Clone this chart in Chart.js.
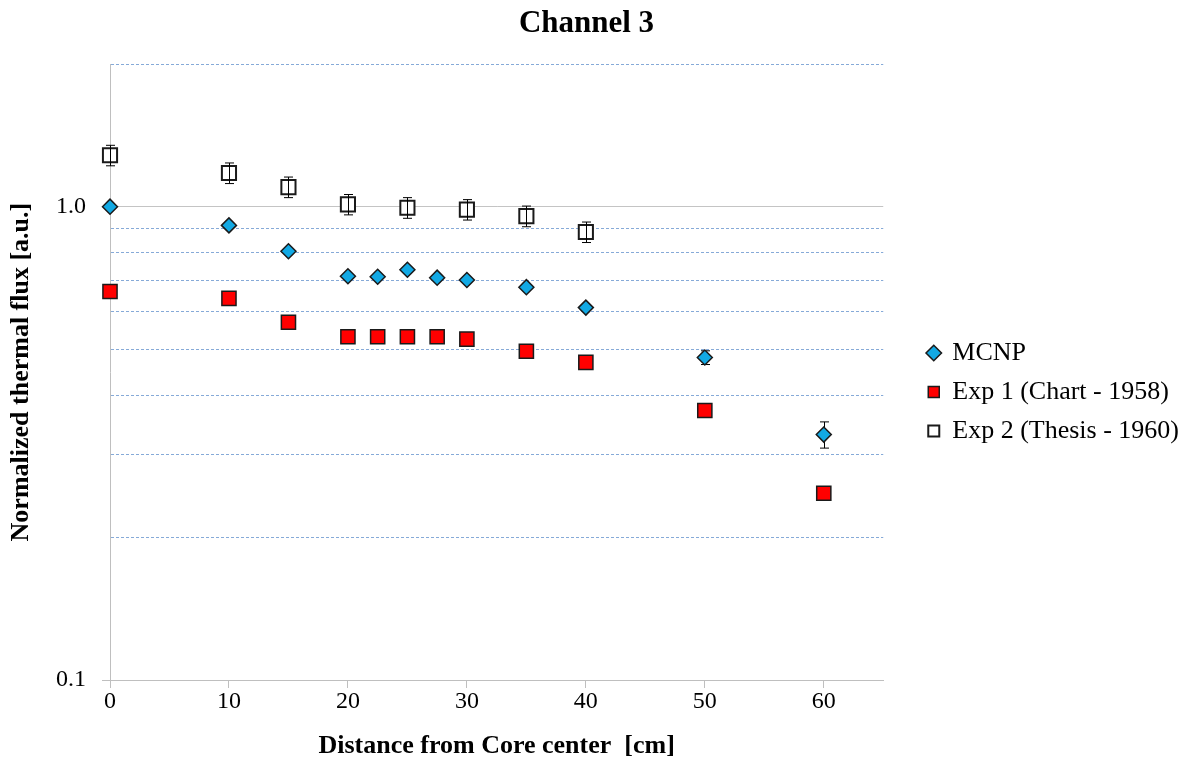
<!DOCTYPE html>
<html>
<head>
<meta charset="utf-8">
<title>Channel 3</title>
<script src="https://cdn.jsdelivr.net/npm/chart.js@4.4.1/dist/chart.umd.min.js"></script>
<style>
  html, body { margin: 0; padding: 0; background: #fff; }
  #wrap { width: 1202px; height: 764px; position: relative; }
</style>
</head>
<body>
<div id="wrap"><canvas id="chart"></canvas></div>
<script>
// distances from core center [cm]
const distances = [0, 10, 15, 20, 22.5, 25, 27.5, 30, 35, 40, 50, 60];

// normalized thermal flux
const mcnp    = [1.0, 0.913, 0.805, 0.713, 0.711, 0.736, 0.708, 0.700, 0.676, 0.612, 0.480, 0.330];
const mcnpErr = [0, 0, 0, 0, 0, 0, 0, 0, 0, 0, 0.016, 0.021];
const exp1    = [0.662, 0.640, 0.570, 0.531, 0.531, 0.531, 0.531, 0.525, 0.495, 0.469, 0.371, 0.248];
const exp2    = [1.284, 1.178, 1.10, 1.011, null, 0.995, null, 0.986, 0.955, 0.884, null, null];
const exp2Err = [0.064, 0.059, 0.055, 0.05, null, 0.05, null, 0.049, 0.048, 0.044, null, null];

const seriesNames = ['MCNP', 'Exp 1 (Chart - 1958)', 'Exp 2 (Thesis - 1960)'];
const xTicks = [0, 10, 20, 30, 40, 50, 60];
const yTicks = [0.1, 0.2, 0.3, 0.4, 0.5, 0.6, 0.7, 0.8, 0.9, 1, 2];
const yLabelled = [0.1, 1];

function points(vals) {
  const out = [];
  vals.forEach((v, i) => { if (v != null) out.push({ x: distances[i], y: v }); });
  return out;
}
function errs(vals, e) {
  const out = [];
  vals.forEach((v, i) => { if (v != null) out.push(e[i]); });
  return out;
}
function isLabelled(v) {
  return yLabelled.some(t => Math.abs(t - v) < 1e-9);
}

const serif = '"Liberation Serif", "Times New Roman", serif';

// vertical error bars, drawn under or over the markers
function drawErrors(chart, onTop) {
  const { ctx, scales: { x, y } } = chart;
  chart.data.datasets.forEach((ds, i) => {
    if (!ds.errors || !!ds.errorsOnTop !== onTop) return;
    if (!chart.isDatasetVisible(i)) return;
    ctx.save();
    ctx.strokeStyle = '#000';
    ctx.lineWidth = 1;
    ds.data.forEach((p, j) => {
      const e = ds.errors[j];
      if (!e) return;
      const px = Math.round(x.getPixelForValue(p.x)) + 0.5;
      const top = y.getPixelForValue(p.y + e);
      const bot = y.getPixelForValue(p.y - e);
      ctx.beginPath();
      ctx.moveTo(px, top); ctx.lineTo(px, bot);
      ctx.moveTo(px - 4.5, top); ctx.lineTo(px + 4.5, top);
      ctx.moveTo(px - 4.5, bot); ctx.lineTo(px + 4.5, bot);
      ctx.stroke();
    });
    ctx.restore();
  });
}

const errorBars = {
  id: 'errorBars',
  beforeDatasetsDraw(chart) { drawErrors(chart, false); },
  afterDatasetsDraw(chart) { drawErrors(chart, true); }
};

// nudge legend and title to where they sit in the original
const placeBoxes = {
  id: 'placeBoxes',
  afterLayout(chart) {
    const lg = chart.legend;
    if (lg) { lg.left += 32; lg.right += 32; lg.top += 10; lg.bottom += 10; }
    const tb = chart.titleBlock;
    if (tb) { tb.left += 8; tb.right += 8; }
  }
};

const ctx = document.getElementById('chart').getContext('2d');
const chart = new Chart(ctx, {
  type: 'scatter',
  data: {
    datasets: [
      {
        label: seriesNames[0],
        data: points(mcnp),
        errors: errs(mcnp, mcnpErr),
        errorsOnTop: false,
        clip: false,
        pointStyle: 'rectRot',
        pointRadius: 7.5,
        pointHoverRadius: 7.5,
        backgroundColor: '#12a9e4',
        borderColor: '#1a1a1a',
        borderWidth: 1.5
      },
      {
        label: seriesNames[1],
        data: points(exp1),
        clip: false,
        pointStyle: 'rect',
        pointRadius: 10,
        pointHoverRadius: 10,
        backgroundColor: '#ff0000',
        borderColor: '#1a1a1a',
        borderWidth: 1.5
      },
      {
        label: seriesNames[2],
        data: points(exp2),
        errors: errs(exp2, exp2Err),
        errorsOnTop: true,
        clip: false,
        pointStyle: 'rect',
        pointRadius: 10,
        pointHoverRadius: 10,
        backgroundColor: '#ffffff',
        borderColor: '#1a1a1a',
        borderWidth: 2
      }
    ]
  },
  options: {
    responsive: true,
    maintainAspectRatio: false,
    animation: false,
    layout: { padding: { right: 45 } },
    plugins: {
      title: {
        display: true,
        text: 'Channel 3',
        color: '#000',
        font: { family: serif, size: 31, weight: 'bold' },
        padding: { top: 5, bottom: 22 }
      },
      legend: {
        position: 'right',
        labels: {
          usePointStyle: true,
          boxWidth: 11,
          boxHeight: 11,
          padding: 13,
          color: '#000',
          font: { family: serif, size: 26 }
        }
      },
      tooltip: { enabled: false }
    },
    scales: {
      x: {
        type: 'linear',
        min: 0,
        max: 65,
        afterFit(scale) { scale.height = 84; },
        afterBuildTicks(scale) { scale.ticks = xTicks.map(v => ({ value: v })); },
        ticks: {
          autoSkip: false,
          maxRotation: 0,
          padding: -1,
          color: '#000',
          font: { family: serif, size: 24 }
        },
        grid: {
          display: true,
          drawOnChartArea: false,
          drawTicks: true,
          tickLength: 8,
          tickColor: '#bfbfbf'
        },
        border: { display: true, color: '#bfbfbf', width: 1 },
        title: {
          display: true,
          text: 'Distance from Core center  [cm]',
          color: '#000',
          font: { family: serif, size: 26, weight: 'bold' },
          padding: { top: 0, bottom: 2 }
        }
      },
      y: {
        type: 'logarithmic',
        min: 0.1,
        max: 2,
        afterFit(scale) { scale.width = 110; },
        afterBuildTicks(scale) { scale.ticks = yTicks.map(v => ({ value: v })); },
        ticks: {
          autoSkip: false,
          padding: 16,
          color: '#000',
          font: { family: serif, size: 24 },
          callback(value) {
            if (Math.abs(value - 1) < 1e-9) return '1.0';
            if (Math.abs(value - 0.1) < 1e-9) return '0.1';
            return '';
          }
        },
        grid: {
          drawTicks: true,
          tickLength: 8,
          lineWidth: 1,
          color(c) {
            const v = c.tick ? c.tick.value : null;
            if (v == null) return '#bfbfbf';
            if (Math.abs(v - 1) < 1e-9) return '#c4c4c4';
            if (Math.abs(v - 0.1) < 1e-9) return 'rgba(0,0,0,0)';
            return '#86aad8';
          },
          tickColor(c) {
            const v = c.tick ? c.tick.value : null;
            return v != null && isLabelled(v) ? '#bfbfbf' : 'rgba(0,0,0,0)';
          }
        },
        border: {
          display: true,
          color: '#bfbfbf',
          width: 1,
          dash(c) {
            const v = c.tick ? c.tick.value : null;
            if (v == null || isLabelled(v)) return [];
            return [3, 2];
          }
        },
        title: {
          display: true,
          text: 'Normalized thermal flux [a.u.]',
          color: '#000',
          font: { family: serif, size: 26, weight: 'bold' },
          padding: { top: 6, bottom: 0 }
        }
      }
    }
  },
  plugins: [errorBars, placeBoxes]
});
</script>
</body>
</html>
